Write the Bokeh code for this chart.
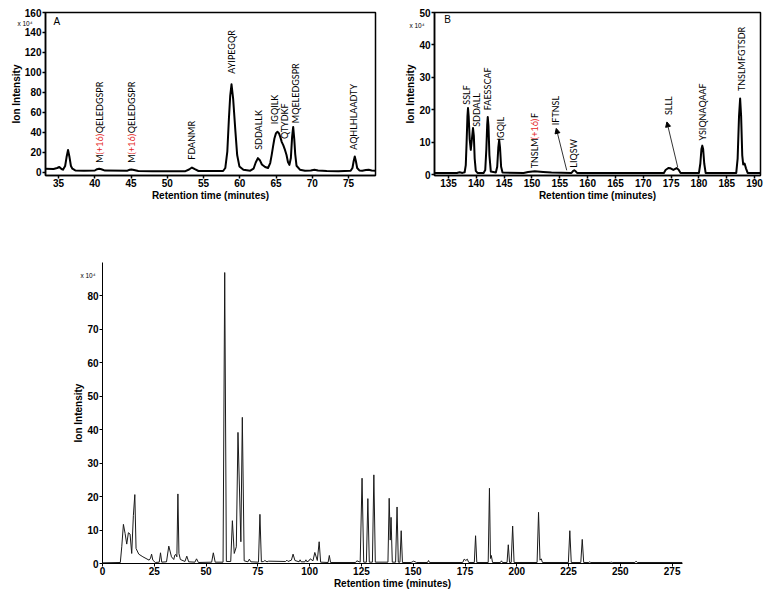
import math
from bokeh.plotting import figure
from bokeh.layouts import column, row
from bokeh.models import Range1d, FixedTicker, Label, Arrow, NormalHead, LinearAxis
from bokeh.core.properties import value
from bokeh.embed import file_html
from bokeh.resources import INLINE

# ---------------- data ----------------
# Panel A: retention time (min), ion intensity (x 10^4)
a_trace = [(33.0, 3.3), (34.3, 3.0), (34.8, 4.0), (35.1, 5.0), (35.4, 3.0), (35.6, 2.3),
           (35.9, 6), (36.1, 15), (36.3, 22), (36.5, 15), (36.7, 6), (36.9, 3.3), (37.3, 1.6),
           (38.5, 1.3), (40.0, 1.5), (40.3, 2.8), (40.6, 3.3), (40.9, 2.8), (41.4, 1.4),
           (44.5, 1.3), (44.8, 2.3), (45.05, 2.6), (45.4, 2.0), (46.0, 1.0), (48.0, 0.8),
           (52.5, 0.8), (53.0, 2.5), (53.4, 4.5), (53.8, 2.8), (54.3, 1.0), (57.7, 1.0),
           (58.0, 4), (58.28, 20.5), (58.5, 53.4), (58.68, 76.5), (58.86, 88), (59.09, 73),
           (59.37, 43.5), (59.64, 17), (59.95, 5.6), (60.5, 2.3), (61.45, 1.3), (61.9, 3.3),
           (62.2, 9.5), (62.5, 13.9), (62.8, 11.5), (63.05, 7.5), (63.5, 5), (63.9, 4),
           (64.2, 9), (64.4, 17), (64.6, 26), (64.78, 33.6), (65.0, 39), (65.2, 40.3),
           (65.4, 39), (65.6, 35), (65.8, 30), (66.0, 27), (66.2, 23), (66.45, 17),
           (66.65, 10), (66.85, 7.2), (67.05, 14), (67.22, 35), (67.37, 45.2), (67.52, 33),
           (67.65, 18), (67.83, 6.3), (68.3, 2.3), (69.0, 1.3), (69.8, 1.6), (70.3, 2.3),
           (70.8, 1.5), (72.0, 1.0), (73.6, 0.8), (75.3, 1.2), (75.55, 4), (75.72, 11),
           (75.87, 15.5), (76.02, 11), (76.2, 4), (76.5, 1.6), (76.9, 1.3), (77.4, 2.0),
           (77.8, 2.3), (78.2, 1.6), (78.9, 1.3)]
a_time = [p[0] for p in a_trace]
a_intensity = [p[1] for p in a_trace]

# Panel B
b_trace = [(132.0, 0.6), (136.5, 0.6), (137.0, 0.8), (137.5, 0.6), (137.9, 0.8), (138.1, 3),
           (138.25, 10), (138.4, 18), (138.5, 20.6), (138.62, 18), (138.8, 11), (139.0, 7.7),
           (139.2, 11), (139.4, 14.4), (139.55, 12), (139.7, 5), (139.9, 1.2), (140.2, 0.6),
           (141.3, 0.6), (141.6, 1.5), (141.8, 8), (141.95, 15.5), (142.05, 17.8), (142.18, 15),
           (142.35, 6), (142.6, 1.0), (143.5, 0.7), (143.75, 2.5), (143.95, 8.5), (144.1, 10.8),
           (144.25, 8.5), (144.45, 2.5), (144.7, 0.7), (148.5, 0.6), (149.3, 0.9), (150.5, 1.1),
           (152.0, 0.9), (153.5, 0.7), (157.1, 0.6), (157.4, 1.2), (157.6, 1.4), (157.85, 1.1),
           (158.1, 0.6), (173.7, 0.6), (174.0, 1.5), (174.5, 2.1), (174.9, 2.0), (175.4, 1.5),
           (176.0, 2.1), (176.35, 1.6), (176.7, 0.6), (180.0, 0.6), (180.25, 3.5), (180.45, 8),
           (180.6, 9.0), (180.75, 8), (180.95, 3.5), (181.2, 0.6), (186.7, 0.6), (186.95, 5),
           (187.2, 18), (187.4, 23.5), (187.58, 18), (187.78, 6), (187.95, 3.2), (188.2, 3.5),
           (188.45, 2), (188.75, 0.6), (192.0, 0.6)]
b_time = [p[0] for p in b_trace]
b_intensity = [p[1] for p in b_trace]

# Panel C (full run)
c_trace = [(0, 0.2), (8.6, 0.3), (9.3, 5), (10.1, 11.7), (10.9, 9), (11.7, 5.8), (12.5, 9.2),
           (13.3, 8.8), (14.1, 3.0), (14.9, 14.3), (15.6, 20.6), (16.2, 4.5), (17.5, 2.8),
           (19.5, 2.0), (22.5, 1.0), (23.2, 1.6), (23.7, 2.8), (24.3, 1.0), (25.5, 0.3),
           (27.4, 0.4), (28.0, 3.2), (28.6, 0.4), (30.9, 0.5), (32.0, 5.2), (33.3, 2.0),
           (34.4, 1.2), (34.9, 2.5), (35.4, 2.7), (35.9, 2.0), (36.4, 20.8), (36.9, 3.0),
           (37.6, 1.2), (39.8, 0.6), (40.7, 2.2), (41.6, 0.5), (44.6, 0.4), (45.4, 1.4),
           (46.3, 0.3), (52.7, 0.4), (53.5, 3.2), (54.4, 0.4), (58.2, 0.4), (59.0, 87),
           (59.8, 0.6), (61.9, 0.6), (62.7, 12.8), (63.6, 3.0), (64.6, 5), (65.4, 39.2),
           (66.8, 6.5), (67.5, 43.7), (68.4, 0.8), (70.2, 0.5), (70.9, 1.3), (71.6, 0.5),
           (75.3, 0.4), (76.0, 14.7), (76.7, 0.5), (77.8, 0.6), (78.4, 0.9), (79.4, 0.5),
           (80.2, 0.7), (88.4, 0.6), (89.0, 1.0), (89.6, 0.6), (91.2, 1.0), (92.0, 2.8),
           (92.9, 0.9), (94.9, 0.5), (95.4, 1.1), (95.9, 0.5), (97.7, 0.5), (98.2, 1.1),
           (98.7, 0.5), (99.7, 0.8), (100.3, 1.4), (101.6, 0.8), (102.5, 3.3), (103.7, 0.9),
           (104.6, 6.5), (105.3, 0.4), (108.9, 0.3), (109.5, 2.4), (110.1, 0.3), (122.2, 0.3),
           (122.8, 0.8), (124.4, 0.4), (125.3, 25.5), (126.1, 0.4), (127.4, 0.4), (128.1, 19.4),
           (128.8, 0.4), (130.3, 0.4), (131.0, 26.5), (131.7, 0.4), (137.8, 0.4), (138.4, 19.5),
           (138.9, 7), (139.3, 13.8), (139.9, 0.4), (141.5, 0.4), (142.2, 16.9), (142.8, 0.4),
           (143.6, 0.4), (144.2, 9.8), (144.8, 0.3), (149.0, 0.3), (150.2, 0.7), (151.6, 0.3),
           (156.9, 0.3), (157.4, 0.9), (157.9, 0.3), (173.9, 0.3), (174.6, 1.3), (175.4, 0.9),
           (176.1, 1.3), (176.8, 0.3), (179.5, 0.3), (180.1, 8.3), (180.7, 0.3), (186.2, 0.3),
           (186.8, 22.5), (187.3, 1.5), (187.7, 2.4), (188.3, 0.3), (192.1, 0.3), (192.6, 0.8),
           (193.1, 0.3), (195.3, 0.3), (195.9, 5.6), (196.5, 0.3), (197.3, 0.3), (198.0, 11.2),
           (198.7, 0.3), (209.8, 0.3), (210.5, 15.3), (211.2, 1.0), (211.8, 1.4), (212.4, 0.3),
           (224.9, 0.3), (225.6, 9.8), (226.3, 0.3), (230.9, 0.3), (231.6, 7.2), (232.3, 0.3),
           (234.8, 0.3), (235.2, 0.5), (235.7, 0.3), (245.1, 0.3), (245.6, 0.4), (246.1, 0.3),
           (257.0, 0.3), (257.6, 0.7), (258.2, 0.3), (280.0, 0.3)]
c_time = [p[0] for p in c_trace]
c_intensity = [p[1] for p in c_trace]

# ticks
a_xticks = [35, 40, 45, 50, 55, 60, 65, 70, 75]
a_yticks = [0, 20, 40, 60, 80, 100, 120, 140, 160]
b_xticks = [135, 140, 145, 150, 155, 160, 165, 170, 175, 180, 185, 190]
b_yticks = [0, 10, 20, 30, 40, 50]
c_xticks = [0, 25, 50, 75, 100, 125, 150, 175, 200, 225, 250, 275]
c_yticks = [0, 10, 20, 30, 40, 50, 60, 70, 80]
scale_text = "x 10\u2074"

# peptide annotations
a_labels = ["M(+16)QELEDGSPR", "M(+16)QELEDGSPR", "FDANMR", "AYIPEGQR", "SDDALLK",
            "IGQILK", "QTYDKF", "MQELEDGSPR", "AQHLHLAADTY"]
a_label_time = [40.64, 45.09, 53.37, 58.86, 62.6, 64.85, 66.22, 67.72, 75.69]
a_label_base = [9.4, 9.4, 12.4, 98.6, 22.3, 48.0, 33.0, 49.0, 22.3]

b_labels = ["SSLF", "SDDALL", "FAESSCAF", "IGQIL", "TNSLM(+16)F", "IFTNSL", "LIQSW",
            "SLLL", "YSIQNAQAAF", "TNSLMFGTSDR"]
b_label_time = [138.25, 140.06, 142.09, 144.35, 150.42, 154.24, 157.48, 174.47, 180.6, 187.59]
b_label_base = [21.6, 14.8, 19.9, 10.6, 2.0, 15.3, 2.2, 18.4, 10.6, 25.8]

# arrows in B: (tail time, tail intensity, head time, head intensity)
b_arrows = [(156.24, 1.4, 154.36, 14.3), (176.18, 2.4, 174.24, 16.3)]

MOD = "(+16)"
RED = "#e41e26"
LFONT = "Lato"
LSIZE = 9
# approximate advance widths (em) of Lato glyphs used before the red part
LATO_W = {"M": 0.915, "(": 0.31, ")": 0.31, "+": 0.58, "1": 0.58, "6": 0.58,
          "T": 0.57, "N": 0.755, "S": 0.52, "L": 0.48}


def text_w(s):
    return sum(LATO_W.get(ch, 0.6) for ch in s) * LSIZE


def add_labels(p, texts, xs, ys):
    for txt, x, y in zip(texts, xs, ys):
        if MOD in txt:
            pre, post = txt.split(MOD)
            parts = [(pre, "black"), (MOD, RED), (post, "black")]
        else:
            parts = [(txt, "black")]
        off = 0.0
        for s, col in parts:
            if s:
                p.text(x=[x], y=[y], text=[s], angle=math.pi / 2, text_align="left",
                       text_baseline="middle", text_font=value(LFONT),
                       text_font_size=f"{LSIZE}px", text_color=col, y_offset=-off)
            off += text_w(s)


def style(p, xticks, yticks, framed=True, lw=1.5):
    p.xgrid.visible = False
    p.ygrid.visible = False
    p.xaxis.ticker = FixedTicker(ticks=xticks, minor_ticks=[])
    p.yaxis.ticker = FixedTicker(ticks=yticks, minor_ticks=[])
    for ax in p.axis:
        ax.major_label_text_font = "Liberation Sans"
        ax.major_label_text_font_style = "bold"
        ax.major_label_text_font_size = "10px"
        ax.major_label_text_color = "black"
        ax.axis_label_text_font = "Liberation Sans"
        ax.axis_label_text_font_style = "bold"
        ax.axis_label_text_font_size = "10px"
        ax.axis_label_text_color = "black"
        ax.major_tick_out = 3
        ax.major_tick_in = 0
        ax.minor_tick_out = 0
        ax.minor_tick_in = 0
        ax.major_label_standoff = 0
        ax.axis_label_standoff = 0
        ax.axis_line_color = "black"
        ax.axis_line_width = lw
        ax.major_tick_line_color = "black"
        ax.major_tick_line_width = lw
    p.yaxis.major_label_standoff = 1
    p.xaxis.axis_label = "Retention time (minutes)"
    p.yaxis.axis_label = "Ion Intensity"
    if framed:
        p.outline_line_color = "black"
        p.outline_line_width = lw
        p.outline_line_alpha = 1
    else:
        p.outline_line_color = None


def add_scale_note(p, tick, standoff):
    # small "x 10^4" note in the left margin, drawn by an extra label-only axis
    ax = LinearAxis(ticker=FixedTicker(ticks=[tick], minor_ticks=[]),
                    major_label_overrides={tick: scale_text})
    ax.axis_line_color = None
    ax.major_tick_line_color = None
    ax.minor_tick_line_color = None
    ax.major_tick_out = 0
    ax.major_tick_in = 0
    ax.major_label_standoff = standoff
    ax.major_label_text_font = "Liberation Sans"
    ax.major_label_text_font_size = "6.5px"
    ax.major_label_text_color = "black"
    ax.axis_label = "\u00a0"
    ax.axis_label_standoff = 0
    ax.axis_label_text_font_size = "10px"
    p.add_layout(ax, "left")


# ---------------- panel A ----------------
pA = figure(width=392, height=210, output_backend="svg", toolbar_location=None, title=None,
            x_range=Range1d(33.19, 78.73), y_range=Range1d(-3.5, 160),
            min_border_left=41, min_border_right=17, min_border_top=12, min_border_bottom=32)
pA.line(a_time, a_intensity, line_color="black", line_width=2, line_join="round")
style(pA, a_xticks, a_yticks)
add_labels(pA, a_labels, a_label_time, a_label_base)
pA.add_layout(Label(x=34.28, y=145.5, text="A", text_font="Liberation Sans",
                    text_font_size="10px", text_color="black"))
add_scale_note(pA, 149, -25)

# ---------------- panel B ----------------
pB = figure(width=379, height=210, output_backend="svg", toolbar_location=None, title=None,
            x_range=Range1d(132.48, 191.06), y_range=Range1d(-0.2, 50),
            min_border_left=36, min_border_right=11, min_border_top=11, min_border_bottom=35)
pB.line(b_time, b_intensity, line_color="black", line_width=2, line_join="round")
style(pB, b_xticks, b_yticks)
add_labels(pB, b_labels, b_label_time, b_label_base)
for xs, ys, xe, ye in b_arrows:
    pB.add_layout(Arrow(end=NormalHead(size=5, fill_color="black", line_color="black"),
                        x_start=xs, y_start=ys, x_end=xe, y_end=ye,
                        line_color="black", line_width=0.8))
pB.add_layout(Label(x=134.24, y=46.0, text="B", text_font="Liberation Sans",
                    text_font_size="10px", text_color="black"))
add_scale_note(pB, 46, -22)

# ---------------- panel C ----------------
pC = figure(width=771, height=387, output_backend="svg", toolbar_location=None, title=None,
            x_range=Range1d(0, 280), y_range=Range1d(0, 90),
            min_border_left=102, min_border_right=89, min_border_top=52, min_border_bottom=34)
pC.line(c_time, c_intensity, line_color="#1a1a1a", line_width=1, line_join="round")
style(pC, c_xticks, c_yticks, framed=False, lw=1)
add_scale_note(pC, 86, -25)

layout = column(row(pA, pB), pC)
open("out.html", "w").write(file_html(layout, INLINE))
